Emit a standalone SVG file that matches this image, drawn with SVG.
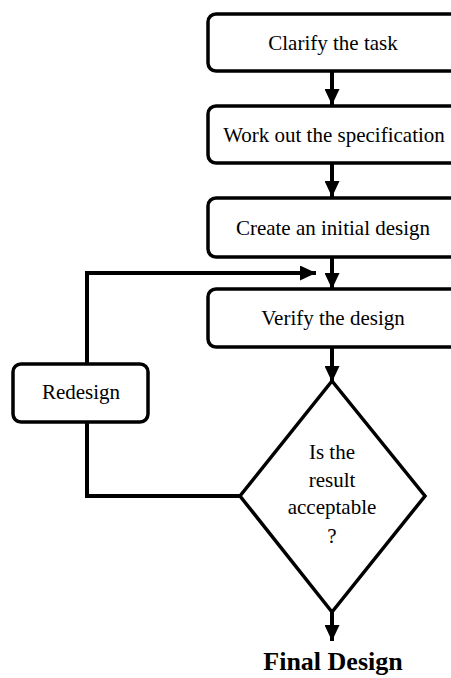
<svg xmlns="http://www.w3.org/2000/svg" width="451" height="678" viewBox="0 0 451 678">
  <style>
    .box { fill: #fff; stroke: #000; stroke-width: 3.5; }
    .line { fill: none; stroke: #000; stroke-width: 4; }
    .lbl { font-family: "Liberation Serif", "Times New Roman", serif; font-size: 21px; fill: #000; text-anchor: middle; }
    .final { font-family: "Liberation Serif", "Times New Roman", serif; font-size: 26px; font-weight: bold; fill: #000; text-anchor: middle; }
  </style>
  <defs>
    <marker id="arrow" viewBox="0 0 16 15" refX="16" refY="7.5" markerWidth="16" markerHeight="15" markerUnits="userSpaceOnUse" orient="auto">
      <path d="M0,0 L16,7.5 L0,15 Z" fill="#000"/>
    </marker>
  </defs>
  <rect width="451" height="678" fill="#fff"/>

  <g id="connectors">
    <line class="line" x1="332" y1="71" x2="332" y2="105" marker-end="url(#arrow)"/>
    <line class="line" x1="332" y1="163" x2="332" y2="197" marker-end="url(#arrow)"/>
    <line class="line" x1="332" y1="257" x2="332" y2="289" marker-end="url(#arrow)"/>
    <line class="line" x1="332" y1="347" x2="332" y2="382" marker-end="url(#arrow)"/>
    <line class="line" x1="332" y1="612" x2="332" y2="641" marker-end="url(#arrow)"/>
    <!-- loop back from the decision through Redesign -->
    <polyline class="line" points="240,496 87,496 87,422"/>
    <polyline class="line" points="87,364 87,273 316,273" marker-end="url(#arrow)"/>
  </g>

  <g id="clarify">
    <rect class="box" x="208" y="14" width="260" height="57" rx="8"/>
    <text class="lbl" x="333" y="50">Clarify the task</text>
  </g>
  <g id="specification">
    <rect class="box" x="208" y="106" width="260" height="57" rx="8"/>
    <text class="lbl" x="334" y="142">Work out the specification</text>
  </g>
  <g id="initial-design">
    <rect class="box" x="208" y="198" width="260" height="59" rx="8"/>
    <text class="lbl" x="333" y="235">Create an initial design</text>
  </g>
  <g id="verify">
    <rect class="box" x="208" y="289" width="260" height="58" rx="8"/>
    <text class="lbl" x="333" y="325">Verify the design</text>
  </g>
  <g id="redesign">
    <rect class="box" x="13" y="364" width="135" height="58" rx="8"/>
    <text class="lbl" x="81" y="399">Redesign</text>
  </g>
  <g id="decision">
    <polygon class="box" points="332,381 425,496 332,612 240,496"/>
    <text class="lbl" x="332" y="459">Is the</text>
    <text class="lbl" x="332" y="487">result</text>
    <text class="lbl" x="332" y="514">acceptable</text>
    <text class="lbl" x="332" y="543">?</text>
  </g>
  <g id="final-design">
    <text class="final" x="333" y="670">Final Design</text>
  </g>
</svg>
